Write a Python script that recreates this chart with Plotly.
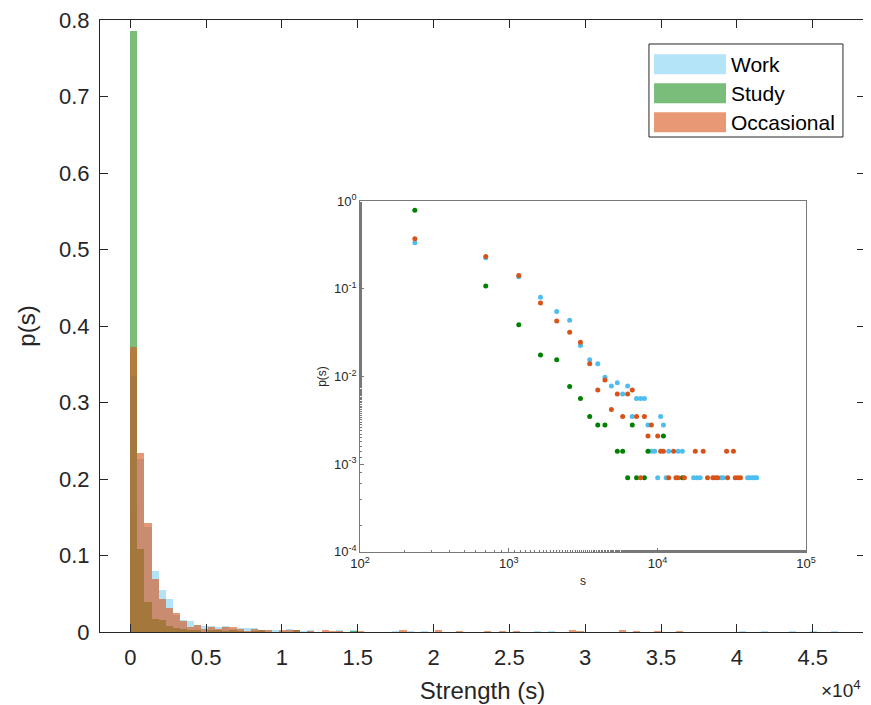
import plotly.graph_objects as go

bin_width = 467  # strength units per histogram bin

# histogram bins (1-based index) and probabilities p(s)
work_bins = list(range(1, 27)) + [30, 32, 38, 40, 42, 58, 60, 87, 90, 94, 97, 100]
work_p = [0.335, 0.226, 0.137, 0.080, 0.055, 0.0437, 0.0225, 0.0155, 0.014, 0.0098,
          0.0078, 0.0085, 0.0063, 0.0078, 0.0035, 0.0056, 0.0056, 0.0056, 0.0028, 0.0014,
          0.0014, 0.0007, 0.0035, 0.0028, 0.0007, 0.0014,
          0.0014, 0.0014, 0.0007, 0.0007, 0.0007, 0.0007, 0.0007, 0.0007, 0.0007, 0.0007,
          0.0007, 0.0007]

study_bins = list(range(1, 11)) + [12, 13, 14, 15, 16, 18, 19, 24, 32]
study_p = [0.785, 0.108, 0.039, 0.0176, 0.0155, 0.0077, 0.0056, 0.0035, 0.0028, 0.0028,
           0.0014, 0.0014, 0.0007, 0.0028, 0.0007, 0.0007, 0.0014, 0.0021, 0.0007]

occ_bins = list(range(1, 21)) + [22, 23, 24, 26, 28, 29, 30, 33, 39, 44, 47, 51, 53, 55,
                                 63, 64, 70, 72, 75, 78]
occ_p = [0.372, 0.234, 0.142, 0.069, 0.043, 0.032, 0.0246, 0.014, 0.007, 0.0091,
         0.0042, 0.0063, 0.0035, 0.0063, 0.007, 0.0035, 0.0007, 0.0035, 0.0021, 0.0028,
         0.0021, 0.0014, 0.0014, 0.0007, 0.0014, 0.0007, 0.0007, 0.0007, 0.0014, 0.0014,
         0.0007, 0.0007, 0.0007, 0.0007, 0.0014, 0.0007, 0.0014, 0.0007, 0.0007, 0.0007]

series = [
    ("Work", work_bins, work_p, "rgb(77,190,238)", 0.42),
    ("Study", study_bins, study_p, "rgb(0,128,0)", 0.52),
    ("Occasional", occ_bins, occ_p, "rgb(217,83,25)", 0.6),
]

x_ticks = [0, 5000, 10000, 15000, 20000, 25000, 30000, 35000, 40000, 45000]
x_ticktext = ["0", "0.5", "1", "1.5", "2", "2.5", "3", "3.5", "4", "4.5"]
y_ticks = [0, 0.1, 0.2, 0.3, 0.4, 0.5, 0.6, 0.7, 0.8]
y_ticktext = ["0", "0.1", "0.2", "0.3", "0.4", "0.5", "0.6", "0.7", "0.8"]

FONT = "Liberation Sans, Arial, sans-serif"
INK = "rgb(38,38,38)"
GREY = "rgb(120,120,120)"

fig = go.Figure()

# main histogram
for name, bins, p, col, alpha in series:
    centers = [(b - 0.5) * bin_width for b in bins]
    fig.add_trace(go.Bar(x=centers, y=p, width=bin_width, name=name,
                         marker=dict(color=col, line=dict(width=0)),
                         opacity=alpha, showlegend=False))

# log-log inset
for name, bins, p, col, alpha in series:
    centers = [(b - 0.5) * bin_width for b in bins]
    fig.add_trace(go.Scatter(x=centers, y=p, mode="markers", name=name,
                             marker=dict(color=col, size=5),
                             xaxis="x2", yaxis="y2", showlegend=False))

# page body has an 8px margin, so the figure is 8px smaller than the window
fig.update_layout(
    width=863, height=697,
    margin=dict(l=92, r=6, t=12, b=73),
    paper_bgcolor="white", plot_bgcolor="white",
    barmode="overlay", bargap=0,
    font=dict(family=FONT, color=INK),
    xaxis=dict(range=[-2000, 48450], tickvals=x_ticks, ticktext=x_ticktext,
               ticks="inside", ticklen=8, tickcolor=INK, showline=True, linecolor=INK,
               mirror="allticks", showgrid=False, zeroline=False, automargin=False,
               tickfont=dict(size=22), ticklabelstandoff=6, ticklabeloverflow="allow",
               title=dict(text="Strength (s)", font=dict(size=24), standoff=12)),
    yaxis=dict(range=[0, 0.8], tickvals=y_ticks, ticktext=y_ticktext,
               ticks="inside", ticklen=8, tickcolor=INK, showline=True, linecolor=INK,
               mirror="allticks", showgrid=False, zeroline=False, automargin=False,
               tickfont=dict(size=22), ticklabelstandoff=5, ticklabeloverflow="allow",
               title=dict(text="p(s)", font=dict(size=24), standoff=16)),
    xaxis2=dict(type="log", range=[2, 5], domain=[0.340, 0.923], anchor="y2",
                tickvals=[1e2, 1e3, 1e4, 1e5],
                ticktext=["10<sup>2</sup>", "10<sup>3</sup>", "10<sup>4</sup>", "10<sup>5</sup>"],
                ticks="inside", ticklen=4, tickcolor=GREY, tickwidth=1,
                minor=dict(ticks="inside", ticklen=2, tickcolor=GREY, tickwidth=1),
                showline=True, linecolor=GREY, linewidth=1, mirror=True,
                automargin=False, showgrid=False, zeroline=False, tickfont=dict(size=13),
                title=dict(text="s", font=dict(size=12), standoff=6)),
    yaxis2=dict(type="log", range=[-4, 0], domain=[0.131, 0.704], anchor="x2",
                tickvals=[1e-4, 1e-3, 1e-2, 1e-1, 1],
                ticktext=["10<sup>-4</sup>", "10<sup>-3</sup>", "10<sup>-2</sup>",
                          "10<sup>-1</sup>", "10<sup>0</sup>"],
                ticks="inside", ticklen=4, tickcolor=GREY, tickwidth=1,
                minor=dict(ticks="inside", ticklen=2, tickcolor=GREY, tickwidth=1),
                showline=True, linecolor=GREY, linewidth=1, mirror=True,
                automargin=False, showgrid=False, zeroline=False, tickfont=dict(size=13),
                title=dict(text="p(s)", font=dict(size=12), standoff=4)),
)

# x10^4 multiplier
fig.add_annotation(text="\u00d710<sup>4</sup>", xref="paper", yref="paper",
                   x=0.998, y=-0.07, xanchor="right", yanchor="top", showarrow=False,
                   font=dict(size=19, color=INK))

# legend box drawn to match the wide MATLAB patches
fig.add_shape(type="rect", xref="paper", yref="paper", x0=0.7176, x1=0.9712,
              y0=0.8088, y1=0.9608, line=dict(color=INK, width=1), fillcolor="white")
row_y = [0.9278, 0.8804, 0.8330]
for (name, bins, p, col, alpha), yc in zip(series, row_y):
    fig.add_shape(type="rect", xref="paper", yref="paper", x0=0.7242, x1=0.8183,
                  y0=yc - 0.0163, y1=yc + 0.0163, line=dict(width=0),
                  fillcolor=col, opacity=alpha)
    fig.add_annotation(text=name, xref="paper", yref="paper", x=0.8222, y=yc,
                       xanchor="left", yanchor="middle", showarrow=False,
                       font=dict(size=21, color="black"))

fig.write_html("out.html")
